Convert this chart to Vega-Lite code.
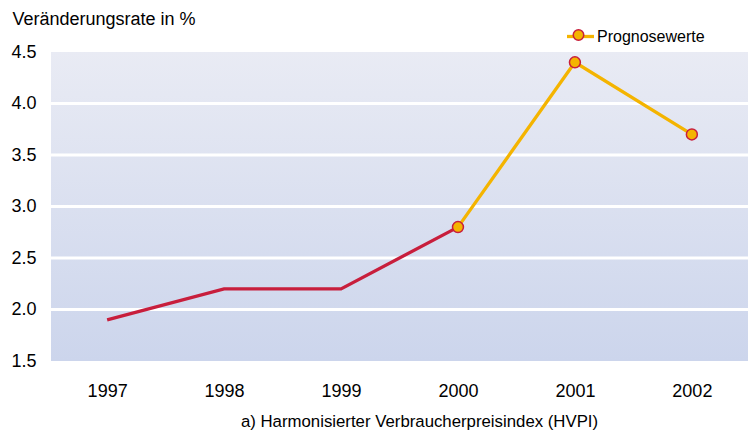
{
  "$schema": "https://vega.github.io/schema/vega-lite/v6.json",
  "width": 697,
  "height": 309,
  "autosize": {"type": "none"},
  "padding": {"left": 51, "top": 52, "right": 0, "bottom": 75},
  "background": "white",
  "config": {
    "font": "Liberation Sans",
    "view": {"stroke": null},
    "axisY": {
      "ticks": false, "domain": false, "grid": false,
      "values": [1.5, 2, 2.5, 3, 3.5, 4, 4.5], "format": ".1f",
      "labelFontSize": 18, "labelPadding": 15, "labelColor": "#000000",
      "titleAngle": 0, "titleAlign": "left", "titleBaseline": "alphabetic",
      "titleX": -39, "titleY": -28, "titleFontSize": 18, "titleFontWeight": "normal", "titleColor": "#000000"
    },
    "axisX": {
      "ticks": false, "domain": false, "grid": false, "labelAngle": 0,
      "labelFontSize": 18, "labelPadding": 21, "labelColor": "#000000",
      "titleFontSize": 16.8, "titleFontWeight": "normal", "titleColor": "#000000", "titlePadding": 13,
      "titleX": 368, "titleAlign": "center"
    }
  },
  "datasets": {
    "series": [
      {"year": "1997", "value": 1.9, "series": "Ist"},
      {"year": "1998", "value": 2.2, "series": "Ist"},
      {"year": "1999", "value": 2.2, "series": "Ist"},
      {"year": "2000", "value": 2.8, "series": "Ist"},
      {"year": "2000", "value": 2.8, "series": "Prognosewerte", "marker": "Marker"},
      {"year": "2001", "value": 4.4, "series": "Prognosewerte", "marker": "Marker"},
      {"year": "2002", "value": 3.7, "series": "Prognosewerte", "marker": "Marker"}
    ]
  },
  "layer": [
    {
      "data": {"values": [{"top": 4.5, "bottom": 1.5}]},
      "mark": {
        "type": "rect",
        "color": {
          "gradient": "linear", "x1": 0, "y1": 0, "x2": 0, "y2": 1,
          "stops": [{"offset": 0, "color": "#E9EBF4"}, {"offset": 1, "color": "#CCD5EC"}]
        }
      },
      "encoding": {
        "y": {"field": "top", "type": "quantitative", "scale": {"domain": [1.5, 4.5], "nice": false, "zero": false}, "title": "Veränderungsrate in %"},
        "y2": {"field": "bottom"}
      }
    },
    {
      "data": {"values": [{"g": 2.0}, {"g": 2.5}, {"g": 3.0}, {"g": 3.5}, {"g": 4.0}]},
      "mark": {"type": "rule", "color": "#FFFFFF", "strokeWidth": 3},
      "encoding": {
        "y": {"field": "g", "type": "quantitative", "title": "Veränderungsrate in %"}
      }
    },
    {
      "data": {"name": "series"},
      "transform": [{"filter": "datum.series === 'Ist'"}],
      "mark": {"type": "line", "color": "#C81E3C", "strokeWidth": 3.3},
      "encoding": {
        "x": {"field": "year", "type": "ordinal", "scale": {"type": "point", "padding": 0.48, "domain": ["1997", "1998", "1999", "2000", "2001", "2002"]}, "title": "a) Harmonisierter Verbraucherpreisindex (HVPI)"},
        "y": {"field": "value", "type": "quantitative", "title": "Veränderungsrate in %"}
      }
    },
    {
      "data": {"name": "series"},
      "transform": [{"filter": "datum.series === 'Prognosewerte'"}],
      "mark": {"type": "line", "strokeWidth": 3.3},
      "encoding": {
        "x": {"field": "year", "type": "ordinal", "title": "a) Harmonisierter Verbraucherpreisindex (HVPI)"},
        "y": {"field": "value", "type": "quantitative", "title": "Veränderungsrate in %"},
        "stroke": {
          "field": "series", "type": "nominal",
          "scale": {"domain": ["Prognosewerte"], "range": ["#F4B400"]},
          "legend": {
            "orient": "none", "legendX": 514, "legendY": -31, "title": null,
            "symbolType": "stroke", "symbolSize": 729, "symbolStrokeWidth": 3.3,
            "labelFontSize": 16, "labelOffset": 1, "labelColor": "#000000"
          }
        }
      }
    },
    {
      "data": {"name": "series"},
      "transform": [{"filter": "datum.series === 'Prognosewerte'"}],
      "mark": {"type": "point", "shape": "circle", "filled": true, "size": 120, "stroke": "#C81E3C", "strokeWidth": 1.5, "opacity": 1},
      "encoding": {
        "x": {"field": "year", "type": "ordinal", "title": "a) Harmonisierter Verbraucherpreisindex (HVPI)"},
        "y": {"field": "value", "type": "quantitative", "title": "Veränderungsrate in %"},
        "fill": {
          "field": "marker", "type": "nominal",
          "scale": {"domain": ["Marker"], "range": ["#F4B400"]},
          "legend": {
            "orient": "none", "legendX": 521.5, "legendY": -23, "title": null,
            "symbolType": "circle", "symbolSize": 110, "symbolStrokeColor": "#C81E3C", "symbolStrokeWidth": 1.5,
            "symbolOpacity": 1, "labelFontSize": 1, "labelOpacity": 0, "labelOffset": 0
          }
        }
      }
    }
  ]
}
